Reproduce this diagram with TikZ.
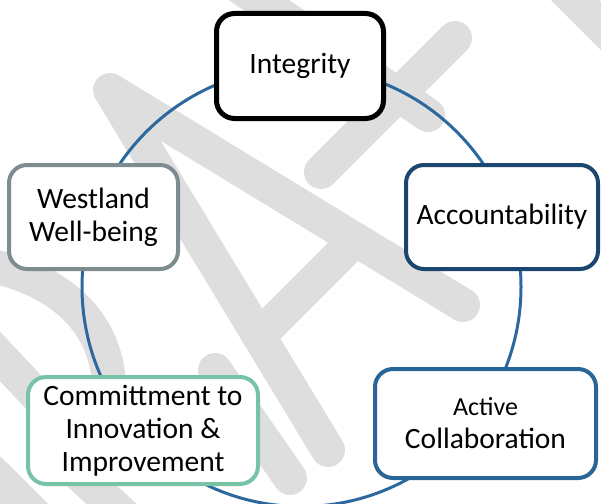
\documentclass[tikz,border=0pt]{standalone}
\usepackage{fontspec}
\setmainfont{Carlito}
\usepackage{xcolor}
\definecolor{ringblue}{HTML}{2C689E}
\definecolor{navyline}{HTML}{1A4670}
\definecolor{slateline}{HTML}{7D8C8E}
\definecolor{blueline}{HTML}{2A6598}
\definecolor{tealline}{HTML}{78C2A6}
\tikzset{
  value/.style={
    shape = rectangle,
    rounded corners = 18pt,
    draw,
    fill = white,
    line width = 4pt,
    align = center,
    inner sep = 0pt,
    font = \fontsize{29.5}{33}\selectfont
  },
  ring/.style={
    draw = ringblue,
    line width = 3pt
  },
  wmark/.style={
    draw = black!13,
    line width = 34pt,
    line cap = round,
    line join = round
  },
}

\begin{document}
\begin{tikzpicture}[x=1pt, y=-1pt]
    \clip (0,0) rectangle (601,503);

    % watermark strokes
    \draw[wmark] (463,305) -- (110,90) -- (328,450);
    \draw[wmark] (355,240) -- (259,336);
    \draw[wmark] (321,172) -- (455,38);
    \draw[wmark] (200,-40) -- (428,115);
    \draw[wmark] (560,-15) -- (620,45);
    \draw[wmark] (-30,262) .. controls (65,275) and (118,330) .. (108,410);
    \draw[wmark] (-25,330) -- (60,420);
    \draw[wmark] (-10,470) -- (40,520);
    \draw[wmark] (80,475) -- (140,530);
    \draw[wmark] (215,370) -- (290,478);

    \coordinate (hub) at (301.5,287);
    \draw[ring] (hub) circle[radius=219.5];

    \node[value, draw=black, line width=5pt, minimum width=167pt, minimum height=105pt] (integrity) at (300,66) {Integrity};
    \node[value, draw=navyline, minimum width=192pt, minimum height=104pt] (account) at (502,217) {Accountability};
    \node[value, draw=blueline, minimum width=221pt, minimum height=109pt] (active) at (485.5,423.5) {{\fontsize{26}{30}\selectfont Active}\\Collaboration};
    \node[value, draw=tealline, minimum width=230pt, minimum height=107pt] (commit) at (143,430.5) {Committment to\\Innovation \&\\Improvement};
    \node[value, draw=slateline, minimum width=169pt, minimum height=104pt] (westland) at (93.5,217) {Westland\\Well-being};
\end{tikzpicture}
\end{document}
